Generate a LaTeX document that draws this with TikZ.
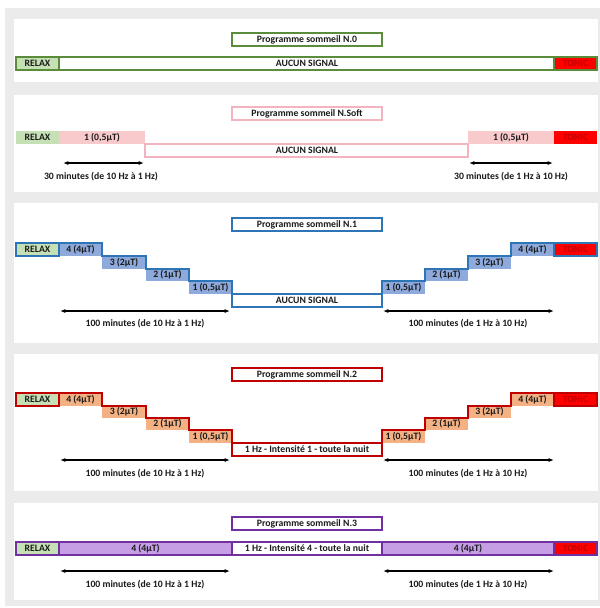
\documentclass[tikz,border=0pt]{standalone}
\usepackage{fontspec}
\setmainfont{Carlito}
\usetikzlibrary{arrows.meta}
\definecolor{fond}{HTML}{EBEBEB}
\definecolor{texte}{HTML}{1A1A1A}
\definecolor{vert}{HTML}{C5E0B4}
\definecolor{vertfonce}{HTML}{5B8C3A}
\definecolor{rouge}{HTML}{FF0000}
\definecolor{rougefonce}{HTML}{C00000}
\definecolor{rose}{HTML}{F9CACC}
\definecolor{rosebord}{HTML}{F2B5BF}
\definecolor{bleu}{HTML}{8EA9DB}
\definecolor{bleufonce}{HTML}{2E75B6}
\definecolor{orange}{HTML}{F4B183}
\definecolor{violet}{HTML}{C59EE6}
\definecolor{violetfonce}{HTML}{7030A0}

\begin{document}
\begin{tikzpicture}[x=0.75pt,y=0.75pt,yscale=-1,xscale=1,
  txt/.style={inner sep=0.75pt,font=\bfseries\fontsize{7.3}{8.6}\selectfont,text=texte},
  fleche/.style={{Latex[length=4pt,width=3pt]}-{Latex[length=4pt,width=3pt]},line width=0.9pt},
  bord/.style={line width=0.9pt}]

\useasboundingbox (0,0) rectangle (600,608);
\fill[fond] (5,8) rectangle (600,606);
\fill[white] (14,19) rectangle (598,82);
\fill[white] (14,95) rectangle (598,192);
\fill[white] (14,203) rectangle (598,343);
\fill[white] (14,354) rectangle (598,491);
\fill[white] (14,503) rectangle (598,600);

% N.0
\draw[bord,vertfonce,fill=white] (232,33) rectangle (382,46);
\draw[bord,vertfonce,fill=vert] (16,57) rectangle (59,70);
\draw[bord,vertfonce,fill=white] (59,57) rectangle (554,70);
\draw[bord,vertfonce,fill=rouge] (554,57) rectangle (597,70);
\node[txt] (t0titre) at (307,39.5) {Programme sommeil N.0};
\node[txt] (t0relax) at (37.5,63.5) {RELAX};
\node[txt] (t0aucun) at (307,63.5) {AUCUN SIGNAL};
\node[txt,text=rougefonce] (t0tonic) at (575.5,63.5) {TONIC};

% N.Soft
\draw[bord,rosebord,fill=white] (232,107) rectangle (382,120);
\fill[vert] (16,131) rectangle (59,144);
\fill[rose] (59,131) rectangle (145,144);
\draw[bord,rosebord,fill=white] (145,144) rectangle (468,157);
\fill[rose] (468,131) rectangle (554,144);
\fill[rouge] (554,131) rectangle (597,144);
\node[txt] (t1titre) at (307,113.5) {Programme sommeil N.Soft};
\node[txt] (t1relax) at (37.5,137.5) {RELAX};
\node[txt] (t1g1) at (102,137.5) {1 (0,5µT)};
\node[txt] (t1aucun) at (307,150.5) {AUCUN SIGNAL};
\node[txt] (t1d1) at (511,137.5) {1 (0,5µT)};
\node[txt,text=rougefonce] (t1tonic) at (575.5,137.5) {TONIC};
\coordinate (a1g) at (63,163);
\coordinate (b1g) at (144,163);
\coordinate (a1d) at (469,163);
\coordinate (b1d) at (553,163);
\draw[fleche] (a1g) -- (b1g);
\draw[fleche] (a1d) -- (b1d);
\node[txt] (t1mg) at (101,177) {30 minutes (de 10 Hz à 1 Hz)};
\node[txt] (t1md) at (511,177) {30 minutes (de 1 Hz à 10 Hz)};

% N.1
\fill[bleu] (59,243) rectangle (102,256);
\fill[bleu] (102,256) rectangle (146,269);
\fill[bleu] (146,269) rectangle (189,281);
\fill[bleu] (189,281) rectangle (232,294);
\fill[bleu] (382,281) rectangle (425,294);
\fill[bleu] (425,269) rectangle (468,281);
\fill[bleu] (468,256) rectangle (511,269);
\fill[bleu] (511,243) rectangle (554,256);
\draw[bord,bleufonce,fill=white] (232,218) rectangle (382,231);
\draw[bord,bleufonce,fill=vert] (16,243) rectangle (59,256);
\draw[bord,bleufonce,fill=white] (232,294) rectangle (382,307);
\draw[bord,bleufonce,fill=rouge] (554,243) rectangle (597,256);
\draw[bord,bleufonce] (59,243) -- (102,243) -- (102,256) -- (146,256) -- (146,269) -- (189,269) -- (189,281) -- (232,281) -- (232,294);
\draw[bord,bleufonce] (382,294) -- (382,281) -- (425,281) -- (425,269) -- (468,269) -- (468,256) -- (511,256) -- (511,243) -- (554,243);
\node[txt] (t2titre) at (307,224.5) {Programme sommeil N.1};
\node[txt] (t2relax) at (37.5,249.5) {RELAX};
\node[txt] (t2g4) at (80.5,249.5) {4 (4µT)};
\node[txt] (t2g3) at (124,262.5) {3 (2µT)};
\node[txt] (t2g2) at (167.5,275) {2 (1µT)};
\node[txt] (t2g1) at (210.5,287.5) {1 (0,5µT)};
\node[txt] (t2aucun) at (307,300.5) {AUCUN SIGNAL};
\node[txt] (t2d1) at (403.5,287.5) {1 (0,5µT)};
\node[txt] (t2d2) at (446.5,275) {2 (1µT)};
\node[txt] (t2d3) at (489.5,262.5) {3 (2µT)};
\node[txt] (t2d4) at (532.5,249.5) {4 (4µT)};
\node[txt,text=rougefonce] (t2tonic) at (575.5,249.5) {TONIC};
\coordinate (a2g) at (60,311);
\coordinate (b2g) at (230,311);
\coordinate (a2d) at (383,311);
\coordinate (b2d) at (554,311);
\draw[fleche] (a2g) -- (b2g);
\draw[fleche] (a2d) -- (b2d);
\node[txt] (t2mg) at (145,324) {100 minutes (de 10 Hz à 1 Hz)};
\node[txt] (t2md) at (468,324) {100 minutes (de 1 Hz à 10 Hz)};

% N.2
\fill[orange] (59,393) rectangle (102,406);
\fill[orange] (102,406) rectangle (146,418);
\fill[orange] (146,418) rectangle (189,430);
\fill[orange] (189,430) rectangle (232,443);
\fill[orange] (382,430) rectangle (425,443);
\fill[orange] (425,418) rectangle (468,430);
\fill[orange] (468,406) rectangle (511,418);
\fill[orange] (511,393) rectangle (554,406);
\draw[bord,rougefonce,fill=white] (232,368) rectangle (382,381);
\draw[bord,rougefonce,fill=vert] (16,393) rectangle (59,406);
\draw[bord,rougefonce,fill=white] (232,443) rectangle (382,456);
\draw[bord,rougefonce,fill=rouge] (554,393) rectangle (597,406);
\draw[bord,rougefonce] (59,393) -- (102,393) -- (102,406) -- (146,406) -- (146,418) -- (189,418) -- (189,430) -- (232,430) -- (232,443);
\draw[bord,rougefonce] (382,443) -- (382,430) -- (425,430) -- (425,418) -- (468,418) -- (468,406) -- (511,406) -- (511,393) -- (554,393);
\node[txt] (t3titre) at (307,374.5) {Programme sommeil N.2};
\node[txt] (t3relax) at (37.5,399.5) {RELAX};
\node[txt] (t3g4) at (80.5,399.5) {4 (4µT)};
\node[txt] (t3g3) at (124,412) {3 (2µT)};
\node[txt] (t3g2) at (167.5,424) {2 (1µT)};
\node[txt] (t3g1) at (210.5,436.5) {1 (0,5µT)};
\node[txt] (t3nuit) at (307,449.5) {1 Hz - Intensité 1 - toute la nuit};
\node[txt] (t3d1) at (403.5,436.5) {1 (0,5µT)};
\node[txt] (t3d2) at (446.5,424) {2 (1µT)};
\node[txt] (t3d3) at (489.5,412) {3 (2µT)};
\node[txt] (t3d4) at (532.5,399.5) {4 (4µT)};
\node[txt,text=rougefonce] (t3tonic) at (575.5,399.5) {TONIC};
\coordinate (a3g) at (60,460);
\coordinate (b3g) at (230,460);
\coordinate (a3d) at (383,460);
\coordinate (b3d) at (554,460);
\draw[fleche] (a3g) -- (b3g);
\draw[fleche] (a3d) -- (b3d);
\node[txt] (t3mg) at (145,474) {100 minutes (de 10 Hz à 1 Hz)};
\node[txt] (t3md) at (468,474) {100 minutes (de 1 Hz à 10 Hz)};

% N.3
\draw[bord,violetfonce,fill=white] (232,517) rectangle (382,530);
\draw[bord,violetfonce,fill=vert] (16,542) rectangle (59,555);
\draw[bord,violetfonce,fill=violet] (59,542) rectangle (232,555);
\draw[bord,violetfonce,fill=white] (232,542) rectangle (382,555);
\draw[bord,violetfonce,fill=violet] (382,542) rectangle (554,555);
\draw[bord,violetfonce,fill=rouge] (554,542) rectangle (597,555);
\node[txt] (t4titre) at (307,523.5) {Programme sommeil N.3};
\node[txt] (t4relax) at (37.5,548.5) {RELAX};
\node[txt] (t4g4) at (145.5,548.5) {4 (4µT)};
\node[txt] (t4nuit) at (307,548.5) {1 Hz - Intensité 4 - toute la nuit};
\node[txt] (t4d4) at (468,548.5) {4 (4µT)};
\node[txt,text=rougefonce] (t4tonic) at (575.5,548.5) {TONIC};
\coordinate (a4g) at (60,571);
\coordinate (b4g) at (230,571);
\coordinate (a4d) at (383,571);
\coordinate (b4d) at (554,571);
\draw[fleche] (a4g) -- (b4g);
\draw[fleche] (a4d) -- (b4d);
\node[txt] (t4mg) at (145,585) {100 minutes (de 10 Hz à 1 Hz)};
\node[txt] (t4md) at (468,585) {100 minutes (de 1 Hz à 10 Hz)};

\end{tikzpicture}
\end{document}
